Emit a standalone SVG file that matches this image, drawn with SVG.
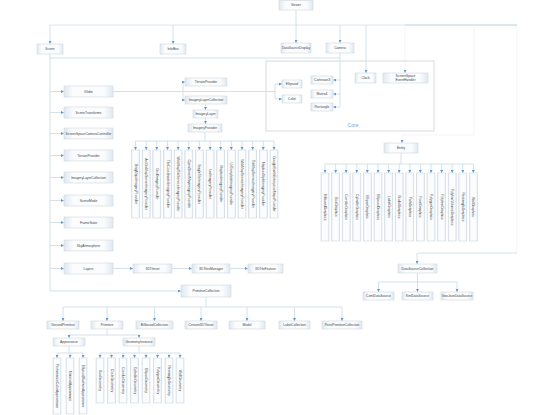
<svg xmlns="http://www.w3.org/2000/svg" width="554" height="415" viewBox="0 0 554 415">
<defs>
<linearGradient id="edge" x1="0" y1="0" x2="1" y2="0">
<stop offset="0" stop-color="#dfe8f1"/><stop offset="0.18" stop-color="#fafcfe"/><stop offset="0.82" stop-color="#fafcfe"/><stop offset="1" stop-color="#dfe8f1"/>
</linearGradient>
<marker id="a" viewBox="0 0 4 4" refX="4" refY="2" markerWidth="3" markerHeight="3" markerUnits="userSpaceOnUse" orient="auto"><path d="M0,0 L4,2 L0,4z" fill="#5b9bd5"/></marker>
<style>
.b{fill:url(#edge);stroke:#cfd6dd;stroke-width:0.6}
.v{fill:url(#edge);stroke:#cfd6dd;stroke-width:0.6}
.t{font-family:"Liberation Sans",Arial,sans-serif;font-size:3.3px;fill:#444;text-anchor:middle;dominant-baseline:central}
.vt{font-size:3.4px}
.c{fill:none;stroke:#c9d9e4;stroke-width:0.8}
.ca{fill:none;stroke:#c9d9e4;stroke-width:0.8;marker-end:url(#a)}
.f{fill:none;stroke:#edf2f5;stroke-width:0.8}
.fa{fill:none;stroke:#edf2f5;stroke-width:0.8;marker-end:url(#a)}
.top{fill:none;stroke:#dbe7ec;stroke-width:1}
.top2{fill:none;stroke:#cde0e5;stroke-width:1.5}
</style>
</defs>
<rect width="554" height="415" fill="#ffffff"/>

<g id="connectors">
<path class="top" d="M50,25 H405"/>
<path class="top2" d="M405,25 H517"/>
<path class="c" d="M296,10 V25"/>
<path class="ca" d="M50,25 V44"/>
<path class="ca" d="M173,25 V44"/>
<path class="ca" d="M296,25 V43"/>
<path class="ca" d="M340,25 V43"/>
<path class="ca" d="M366,25 V73"/>
<path class="fa" d="M405,25 V73"/>
<path class="fa" d="M474,25 V135 H402 V143"/>
<path class="f" d="M517,25 V253"/>
<path class="ca" d="M517,253 H417 V264"/>
<!-- Scene spine -->
<path class="c" d="M50,54 V291"/>
<path class="c" d="M50,58 H340"/>
<path class="ca" d="M50,91.5 H64"/>
<path class="ca" d="M50,112.5 H64"/>
<path class="ca" d="M50,133.5 H64"/>
<path class="ca" d="M50,155.5 H64"/>
<path class="ca" d="M50,177.5 H64"/>
<path class="ca" d="M50,200.5 H64"/>
<path class="ca" d="M50,222.5 H64"/>
<path class="ca" d="M50,245.5 H64"/>
<path class="ca" d="M50,268.5 H64"/>
<path class="ca" d="M50,291 H181"/>
<!-- Globe -->
<path class="c" d="M113,91.5 H275"/>
<path class="c" d="M183,82 V100"/>
<path class="ca" d="M183,82 H185"/>
<path class="ca" d="M183,100 H185"/>
<path class="c" d="M275,84 V99"/>
<path class="ca" d="M275,84 H282"/>
<path class="ca" d="M275,99 H282"/>
<path class="ca" d="M205.5,104 V110"/>
<path class="ca" d="M205.5,118 V124"/>
<path class="c" d="M205,132 V141 M135.5,141 H274"/>
<path class="ca" d="M135.5,141 V150"/><path class="ca" d="M146.2,141 V150"/><path class="ca" d="M156.8,141 V150"/><path class="ca" d="M167.5,141 V150"/><path class="ca" d="M178.1,141 V150"/><path class="ca" d="M188.8,141 V150"/><path class="ca" d="M199.4,141 V150"/><path class="ca" d="M210.1,141 V150"/><path class="ca" d="M220.7,141 V150"/><path class="ca" d="M231.4,141 V150"/><path class="ca" d="M242,141 V150"/><path class="ca" d="M252.7,141 V150"/><path class="ca" d="M263.3,141 V150"/><path class="ca" d="M274,141 V150"/>
<!-- Camera -->
<path class="c" d="M340,53 V107"/>
<path class="ca" d="M340,80 H333"/>
<path class="ca" d="M340,94 H333"/>
<path class="ca" d="M340,107 H333"/>
<!-- Layers chain -->
<path class="ca" d="M113,268.5 H133"/>
<path class="ca" d="M172,268.5 H192"/>
<path class="ca" d="M230,268.5 H248"/>
<!-- Entity -->
<path class="c" d="M401,153 V164 M325,164 H473.4"/>
<path class="ca" d="M325,164 V173"/><path class="ca" d="M335.6,164 V173"/><path class="ca" d="M346.2,164 V173"/><path class="ca" d="M356.8,164 V173"/><path class="ca" d="M367.4,164 V173"/><path class="ca" d="M378,164 V173"/><path class="ca" d="M388.6,164 V173"/><path class="ca" d="M399.2,164 V173"/><path class="ca" d="M409.8,164 V173"/><path class="ca" d="M420.4,164 V173"/><path class="ca" d="M431,164 V173"/><path class="ca" d="M441.6,164 V173"/><path class="ca" d="M452.2,164 V173"/><path class="ca" d="M462.8,164 V173"/><path class="ca" d="M473.4,164 V173"/>
<!-- DataSourceCollection -->
<path class="c" d="M417.5,273 V282 M378.5,282 H457"/>
<path class="ca" d="M378.5,282 V292"/><path class="ca" d="M417.5,282 V292"/><path class="ca" d="M457,282 V292"/>
<!-- PrimitiveCollection -->
<path class="c" d="M206,297 V307 M63,307 H342"/>
<path class="ca" d="M63,307 V321"/><path class="ca" d="M107,307 V321"/><path class="ca" d="M154.5,307 V321"/><path class="ca" d="M201,307 V321"/><path class="ca" d="M247,307 V321"/><path class="ca" d="M294.5,307 V321"/><path class="ca" d="M342,307 V321"/>
<path class="c" d="M107,329 V335 M69,335 H139"/>
<path class="ca" d="M69,335 V338"/><path class="ca" d="M139,335 V338"/>
<path class="c" d="M69,346 V353 M57,353 H83"/>
<path class="ca" d="M57,353 V358"/><path class="ca" d="M70,353 V358"/><path class="ca" d="M83,353 V358"/>
<path class="c" d="M139,346 V353 M100,353 H180"/>
<path class="ca" d="M100,353 V358"/><path class="ca" d="M111.5,353 V358"/><path class="ca" d="M123,353 V358"/><path class="ca" d="M134.5,353 V358"/><path class="ca" d="M146,353 V358"/><path class="ca" d="M157.5,353 V358"/><path class="ca" d="M169,353 V358"/><path class="ca" d="M180,353 V358"/>
</g>

<g id="core">
<rect x="266" y="61" width="168" height="70" fill="none" stroke="#d6dadd" stroke-width="1"/>
<text x="353" y="124.5" font-family="Liberation Sans, Arial, sans-serif" font-size="5" fill="#6fa8d8" text-anchor="middle" dominant-baseline="central">Core</text>
</g>

<g id="viewer"><rect class="b" x="279" y="0.5" width="34" height="9.5"/><text class="t" x="296" y="5.3">Viewer</text></g>
<g id="scene"><rect class="b" x="37" y="44" width="26" height="10"/><text class="t" x="50" y="49">Scene</text></g>
<g id="infobox"><rect class="b" x="160" y="44" width="26" height="10"/><text class="t" x="173" y="49">InfoBox</text></g>
<g id="datasourcedisplay"><rect class="b" x="281" y="43" width="30" height="10"/><text class="t" x="296" y="48">DataSourceDisplay</text></g>
<g id="camera"><rect class="b" x="326" y="43" width="28" height="10"/><text class="t" x="340" y="48">Camera</text></g>
<g id="clock"><rect class="b" x="355" y="73" width="21" height="10"/><text class="t" x="365.5" y="78">Clock</text></g>
<g id="sseh"><rect class="b" x="383" y="73" width="45" height="10"/><text class="t" x="405.5" y="76.2">ScreenSpace</text><text class="t" x="405.5" y="80">EventHandler</text></g>
<g id="ellipsoid"><rect class="b" x="282" y="80" width="20" height="8"/><text class="t" x="292" y="84">Ellipsoid</text></g>
<g id="color"><rect class="b" x="282" y="95" width="20" height="8"/><text class="t" x="292" y="99">Color</text></g>
<g id="cartesian3"><rect class="b" x="311" y="76" width="22" height="8"/><text class="t" x="322" y="80">Cartesian3</text></g>
<g id="matrix4"><rect class="b" x="311" y="90" width="22" height="8"/><text class="t" x="322" y="94">Matrix4</text></g>
<g id="rectangle"><rect class="b" x="311" y="103" width="22" height="8"/><text class="t" x="322" y="107">Rectangle</text></g>

<g id="globe"><rect class="b" x="64" y="86" width="49" height="11"/><text class="t" x="88.5" y="91.5">Globe</text></g>
<g id="scenetransforms"><rect class="b" x="64" y="107" width="49" height="11"/><text class="t" x="88.5" y="112.5">SceneTransforms</text></g>
<g id="sscc"><rect class="b" x="64" y="128" width="49" height="11"/><text class="t" x="88.5" y="133.5">ScreenSpaceCameraController</text></g>
<g id="terrainprovider2"><rect class="b" x="64" y="150" width="49" height="11"/><text class="t" x="88.5" y="155.5">TerrainProvider</text></g>
<g id="imagerylayercollection2"><rect class="b" x="64" y="172" width="49" height="11"/><text class="t" x="88.5" y="177.5">ImageryLayerCollection</text></g>
<g id="scenemode"><rect class="b" x="64" y="195" width="49" height="11"/><text class="t" x="88.5" y="200.5">SceneMode</text></g>
<g id="framestate"><rect class="b" x="64" y="217" width="49" height="11"/><text class="t" x="88.5" y="222.5">FrameState</text></g>
<g id="skyatmosphere"><rect class="b" x="64" y="240" width="49" height="11"/><text class="t" x="88.5" y="245.5">SkyAtmosphere</text></g>
<g id="layers"><rect class="b" x="64" y="263" width="49" height="11"/><text class="t" x="88.5" y="268.5">Layers</text></g>

<g id="tileset"><rect class="b" x="133" y="264" width="39" height="9"/><text class="t" x="152.5" y="268.5">3DTileset</text></g>
<g id="tilesmanager"><rect class="b" x="192" y="264" width="38" height="9"/><text class="t" x="211" y="268.5">3DTilesManager</text></g>
<g id="tilefeature"><rect class="b" x="248" y="264" width="35" height="9"/><text class="t" x="265.5" y="268.5">3DTileFeature</text></g>

<g id="terrainprovider"><rect class="b" x="185" y="78" width="42" height="8"/><text class="t" x="206" y="82">TerrainProvider</text></g>
<g id="imagerylayercollection"><rect class="b" x="185" y="96" width="42" height="8"/><text class="t" x="206" y="100">ImageryLayerCollection</text></g>
<g id="imagerylayer"><rect class="b" x="193" y="110" width="25" height="8"/><text class="t" x="205.5" y="114">ImageryLayer</text></g>
<g id="imageryprovider"><rect class="b" x="188" y="124" width="34" height="8"/><text class="t" x="205" y="128">ImageryProvider</text></g>

<g id="ip1"><rect class="v" x="131.5" y="150" width="8" height="68"/><text class="t vt" transform="translate(135.5,184) rotate(90)">BingMapsImageryProvider</text></g>
<g id="ip2"><rect class="v" x="142.2" y="150" width="8" height="68"/><text class="t vt" transform="translate(146.2,184) rotate(90)">ArcGisMapServerImageryProvider</text></g>
<g id="ip3"><rect class="v" x="152.8" y="150" width="8" height="68"/><text class="t vt" transform="translate(156.8,184) rotate(90)">GridImageryProvider</text></g>
<g id="ip4"><rect class="v" x="163.5" y="150" width="8" height="68"/><text class="t vt" transform="translate(167.5,184) rotate(90)">TileCoordinatesImageryProvider</text></g>
<g id="ip5"><rect class="v" x="174.1" y="150" width="8" height="68"/><text class="t vt" transform="translate(178.1,184) rotate(90)">WebMapTileServiceImageryProvider</text></g>
<g id="ip6"><rect class="v" x="184.8" y="150" width="8" height="68"/><text class="t vt" transform="translate(188.8,184) rotate(90)">OpenStreetMapImageryProvider</text></g>
<g id="ip7"><rect class="v" x="195.4" y="150" width="8" height="68"/><text class="t vt" transform="translate(199.4,184) rotate(90)">SingleTileImageryProvider</text></g>
<g id="ip8"><rect class="v" x="206.1" y="150" width="8" height="68"/><text class="t vt" transform="translate(210.1,184) rotate(90)">IonImageryProvider</text></g>
<g id="ip9"><rect class="v" x="216.7" y="150" width="8" height="68"/><text class="t vt" transform="translate(220.7,184) rotate(90)">MapboxImageryProvider</text></g>
<g id="ip10"><rect class="v" x="227.4" y="150" width="8" height="68"/><text class="t vt" transform="translate(231.4,184) rotate(90)">UrlTemplateImageryProvider</text></g>
<g id="ip11"><rect class="v" x="238" y="150" width="8" height="68"/><text class="t vt" transform="translate(242,184) rotate(90)">WebMapServiceImageryProvider</text></g>
<g id="ip12"><rect class="v" x="248.7" y="150" width="8" height="68"/><text class="t vt" transform="translate(252.7,184) rotate(90)">TileMapServiceImageryProvider</text></g>
<g id="ip13"><rect class="v" x="259.3" y="150" width="8" height="68"/><text class="t vt" transform="translate(263.3,184) rotate(90)">MapboxStyleImageryProvider</text></g>
<g id="ip14"><rect class="v" x="270" y="150" width="8" height="68"/><text class="t vt" transform="translate(274,184) rotate(90)">GoogleEarthEnterpriseMapsProvider</text></g>

<g id="entity"><rect class="b" x="384" y="143" width="34" height="10"/><text class="t" x="401" y="148">Entity</text></g>
<g id="eg1"><rect class="v" x="321" y="173" width="8" height="68"/><text class="t vt" transform="translate(325,207) rotate(90)">BillboardGraphics</text></g>
<g id="eg2"><rect class="v" x="331.6" y="173" width="8" height="68"/><text class="t vt" transform="translate(335.6,207) rotate(90)">BoxGraphics</text></g>
<g id="eg3"><rect class="v" x="342.2" y="173" width="8" height="68"/><text class="t vt" transform="translate(346.2,207) rotate(90)">CorridorGraphics</text></g>
<g id="eg4"><rect class="v" x="352.8" y="173" width="8" height="68"/><text class="t vt" transform="translate(356.8,207) rotate(90)">CylinderGraphics</text></g>
<g id="eg5"><rect class="v" x="363.4" y="173" width="8" height="68"/><text class="t vt" transform="translate(367.4,207) rotate(90)">EllipseGraphics</text></g>
<g id="eg6"><rect class="v" x="374" y="173" width="8" height="68"/><text class="t vt" transform="translate(378,207) rotate(90)">EllipsoidGraphics</text></g>
<g id="eg7"><rect class="v" x="384.6" y="173" width="8" height="68"/><text class="t vt" transform="translate(388.6,207) rotate(90)">LabelGraphics</text></g>
<g id="eg8"><rect class="v" x="395.2" y="173" width="8" height="68"/><text class="t vt" transform="translate(399.2,207) rotate(90)">ModelGraphics</text></g>
<g id="eg9"><rect class="v" x="405.8" y="173" width="8" height="68"/><text class="t vt" transform="translate(409.8,207) rotate(90)">PathGraphics</text></g>
<g id="eg10"><rect class="v" x="416.4" y="173" width="8" height="68"/><text class="t vt" transform="translate(420.4,207) rotate(90)">PointGraphics</text></g>
<g id="eg11"><rect class="v" x="427" y="173" width="8" height="68"/><text class="t vt" transform="translate(431,207) rotate(90)">PolygonGraphics</text></g>
<g id="eg12"><rect class="v" x="437.6" y="173" width="8" height="68"/><text class="t vt" transform="translate(441.6,207) rotate(90)">PolylineGraphics</text></g>
<g id="eg13"><rect class="v" x="448.2" y="173" width="8" height="68"/><text class="t vt" transform="translate(452.2,207) rotate(90)">PolylineVolumeGraphics</text></g>
<g id="eg14"><rect class="v" x="458.8" y="173" width="8" height="68"/><text class="t vt" transform="translate(462.8,207) rotate(90)">RectangleGraphics</text></g>
<g id="eg15"><rect class="v" x="469.4" y="173" width="8" height="68"/><text class="t vt" transform="translate(473.4,207) rotate(90)">WallGraphics</text></g>

<g id="datasourcecollection"><rect class="b" x="398" y="264" width="39" height="9"/><text class="t" x="417.5" y="268.5">DataSourceCollection</text></g>
<g id="czml"><rect class="b" x="363" y="292" width="31" height="8"/><text class="t" x="378.5" y="296">CzmlDataSource</text></g>
<g id="kml"><rect class="b" x="402" y="292" width="31" height="8"/><text class="t" x="417.5" y="296">KmlDataSource</text></g>
<g id="geojson"><rect class="b" x="441" y="292" width="32" height="8"/><text class="t" x="457" y="296">GeoJsonDataSource</text></g>

<g id="primitivecollection"><rect class="b" x="181" y="285" width="50" height="12"/><text class="t" x="206" y="291">PrimitiveCollection</text></g>
<g id="groundprimitive"><rect class="b" x="47" y="321" width="32" height="8"/><text class="t" x="63" y="325">GroundPrimitive</text></g>
<g id="primitive"><rect class="b" x="91" y="321" width="32" height="8"/><text class="t" x="107" y="325">Primitive</text></g>
<g id="billboardcollection"><rect class="b" x="136" y="321" width="37" height="8"/><text class="t" x="154.5" y="325">BillboardCollection</text></g>
<g id="c3dtileset"><rect class="b" x="185" y="321" width="32" height="8"/><text class="t" x="201" y="325">Cesium3DTileset</text></g>
<g id="model"><rect class="b" x="229" y="321" width="36" height="8"/><text class="t" x="247" y="325">Model</text></g>
<g id="labelcollection"><rect class="b" x="279" y="321" width="31" height="8"/><text class="t" x="294.5" y="325">LabelCollection</text></g>
<g id="pointprimitivecollection"><rect class="b" x="322" y="321" width="40" height="8"/><text class="t" x="342" y="325">PointPrimitiveCollection</text></g>

<g id="appearance"><rect class="b" x="53" y="338" width="32" height="8"/><text class="t" x="69" y="342">Appearance</text></g>
<g id="geometryinstance"><rect class="b" x="123" y="338" width="32" height="8"/><text class="t" x="139" y="342">GeometryInstance</text></g>

<g id="ap1"><rect class="v" x="53" y="358" width="8" height="56"/><text class="t vt" transform="translate(57,386) rotate(90)">PerInstanceColorAppearance</text></g>
<g id="ap2"><rect class="v" x="66" y="358" width="8" height="56"/><text class="t vt" transform="translate(70,386) rotate(90)">MaterialAppearance</text></g>
<g id="ap3"><rect class="v" x="79" y="358" width="8" height="56"/><text class="t vt" transform="translate(83,386) rotate(90)">EllipsoidSurfaceAppearance</text></g>

<g id="gi1"><rect class="v" x="96" y="358" width="8" height="45"/><text class="t vt" transform="translate(100,380.5) rotate(90)">BoxGeometry</text></g>
<g id="gi2"><rect class="v" x="107.5" y="358" width="8" height="45"/><text class="t vt" transform="translate(111.5,380.5) rotate(90)">CircleGeometry</text></g>
<g id="gi3"><rect class="v" x="119" y="358" width="8" height="45"/><text class="t vt" transform="translate(123,380.5) rotate(90)">CorridorGeometry</text></g>
<g id="gi4"><rect class="v" x="130.5" y="358" width="8" height="45"/><text class="t vt" transform="translate(134.5,380.5) rotate(90)">CylinderGeometry</text></g>
<g id="gi5"><rect class="v" x="142" y="358" width="8" height="45"/><text class="t vt" transform="translate(146,380.5) rotate(90)">EllipseGeometry</text></g>
<g id="gi6"><rect class="v" x="153.5" y="358" width="8" height="45"/><text class="t vt" transform="translate(157.5,380.5) rotate(90)">PolygonGeometry</text></g>
<g id="gi7"><rect class="v" x="165" y="358" width="8" height="45"/><text class="t vt" transform="translate(169,380.5) rotate(90)">RectangleGeometry</text></g>
<g id="gi8"><rect class="v" x="176" y="358" width="8" height="45"/><text class="t vt" transform="translate(180,380.5) rotate(90)">WallGeometry</text></g>
</svg>
